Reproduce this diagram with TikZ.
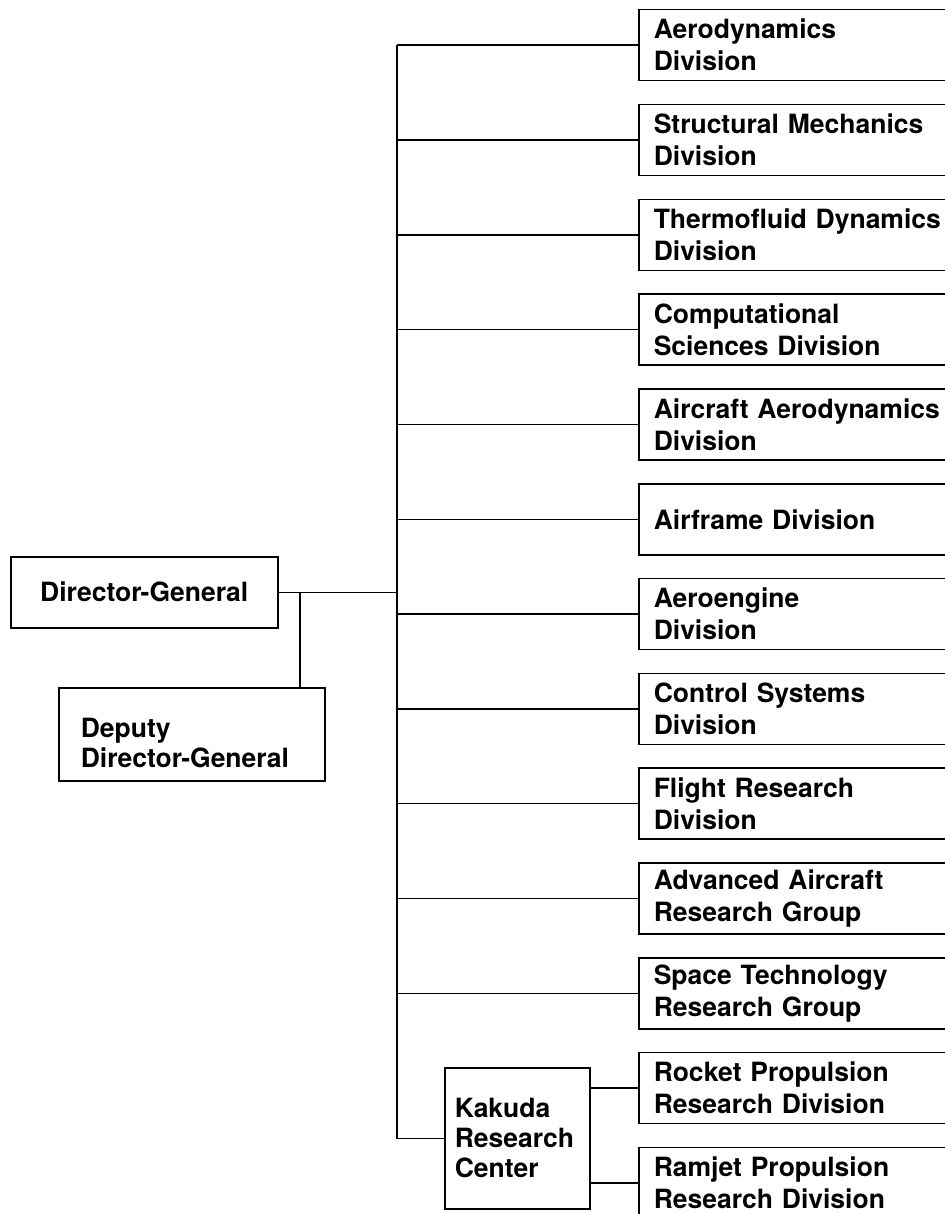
\documentclass[tikz,border=0pt]{standalone}
\usepackage{fontspec}
\setsansfont{TeX Gyre Heros}
\tikzset{
  unit/.style={draw, line width=1.5pt, anchor=north west, inner ysep=0pt,
    font=\sffamily\bfseries\fontsize{26.5}{30}\selectfont},
  division/.style={unit, minimum width=330pt, minimum height=71pt, text width=300pt,
    inner xsep=15pt, align=left, font=\sffamily\bfseries\fontsize{26.5}{32}\selectfont},
  link/.style={line width=1.5pt}
}
\begin{document}
\begin{tikzpicture}[x=1pt,y=-1pt]
  \useasboundingbox (0,0) rectangle (944,1214);
  % head office
  \node[unit, minimum width=267pt, minimum height=71pt] (dg) at (10,556) {Director-General};
  \node[unit, minimum width=266pt, minimum height=93pt, text width=222pt, inner xsep=22pt, align=left] (ddg) at (58,687) {\rule{0pt}{37pt}Deputy\\Director-General};
  \node[unit, minimum width=145pt, minimum height=141pt, text width=125pt, inner xsep=10pt, align=left] (kakuda) at (444,1067) {Kakuda\\Research\\Center};
  \coordinate (trunk) at (397,0);
  \coordinate (branch) at (300,0);
  % divisions
  \foreach \name/\txt [count=\i from 0] in {aero/{Aerodynamics\\Division},
      struct/{Structural Mechanics\\Division}, thermo/{Thermofluid Dynamics\\Division},
      comp/{Computational\\Sciences Division}, acaero/{Aircraft Aerodynamics\\Division},
      frame/{Airframe Division}, engine/{Aeroengine\\Division},
      control/{Control Systems\\Division}, flight/{Flight Research\\Division},
      adv/{Advanced Aircraft\\Research Group}, space/{Space Technology\\Research Group},
      rocket/{Rocket Propulsion\\Research Division}, ramjet/{Ramjet Propulsion\\Research Division}}
    \node[division] (\name) at (638,{9+94.8*\i}) {\txt};
  % lines
  \draw[link] (dg.east) -- (dg.east -| trunk);
  \draw[link] (branch |- dg.east) -- (branch |- ddg.north);
  \draw[link] (aero.west -| trunk) -- (kakuda.west -| trunk) -- (kakuda.west);
  \foreach \name in {aero,struct,thermo,comp,acaero,frame,engine,control,flight,adv,space}
    \draw[link] (\name.west) -- (\name.west -| trunk);
  \draw[link] (rocket.west) -- (rocket.west -| kakuda.east);
  \draw[link] (ramjet.west) -- (ramjet.west -| kakuda.east);
\end{tikzpicture}
\end{document}
